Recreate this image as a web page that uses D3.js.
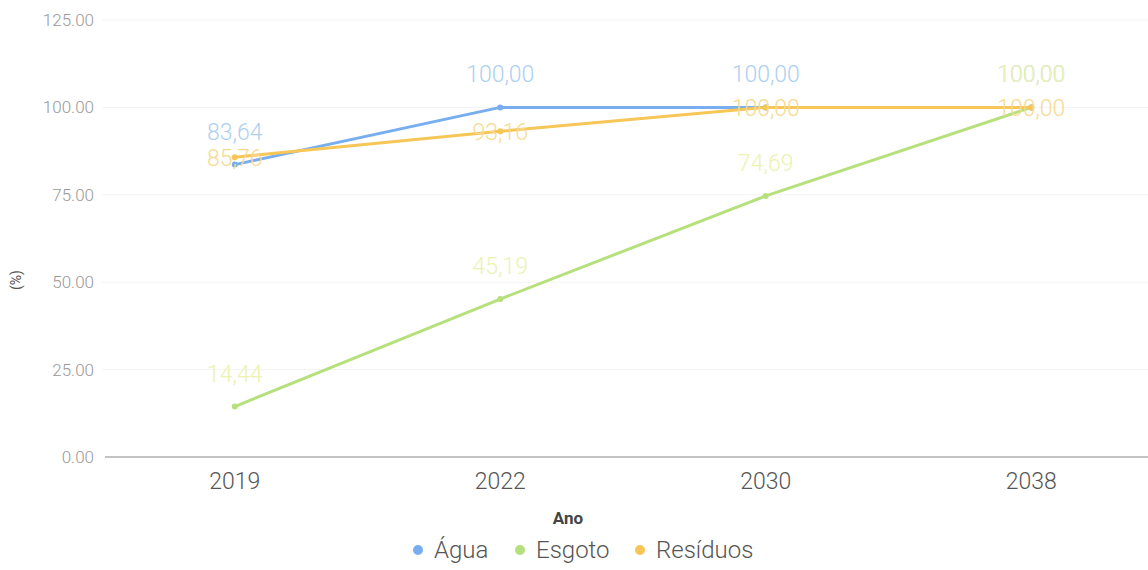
<!DOCTYPE html>
<html><head><meta charset="utf-8">
<script src="https://cdn.jsdelivr.net/npm/d3@7"></script>
<style>body{margin:0;background:#fff;}svg{display:block;font-family:Roboto,Arial,sans-serif;}</style>
</head><body><svg id="c" width="1148" height="570"></svg>
<script>
const categories = ["2019","2022","2030","2038"];
const agua = [83.64, 100.00, 100.00, 100.00];
const esgoto = [14.44, 45.19, 74.69, 100.00];
const residuos = [85.76, 93.16, 100.00, 100.00];
const yTicks = [0, 25, 50, 75, 100, 125];
const seriesNames = ["Água","Esgoto","Resíduos"];

const series = [
  {name: seriesNames[0], values: agua, line: "#78aef0", label: "#add0f2", labelDy: -33},
  {name: seriesNames[1], values: esgoto, line: "#b6e07c", label: "#ecf2b0", labelDy: -33},
  {name: seriesNames[2], values: residuos, line: "#f6c656", label: "#f6da92", labelDy: 1}
];

const svg = d3.select("#c");
const x = d3.scaleBand().domain(categories).range([102, 1164]);
const y = d3.scaleLinear().domain([0, 125]).range([457, 20]);
const fmt = v => d3.format(".2f")(v).replace(".", ",");

// grid
svg.append("g").selectAll("line").data(yTicks.filter(d => d > 0)).join("line")
  .attr("x1", 102).attr("x2", 1148)
  .attr("y1", d => y(d)).attr("y2", d => y(d))
  .attr("stroke", "#f4f4f4").attr("stroke-width", 1);

// y axis
const ya = svg.append("g").attr("transform", "translate(94,0)")
  .call(d3.axisLeft(y).tickValues(yTicks).tickFormat(d3.format(".2f")).tickSize(0).tickPadding(0));
ya.select(".domain").remove();
ya.selectAll("text").attr("fill", "#999").attr("font-size", 17).attr("font-weight", 300)
  .attr("font-family", "Roboto, Arial, sans-serif");

// x axis
const xa = svg.append("g").attr("transform", "translate(0,457)")
  .call(d3.axisBottom(x).tickSize(0).tickPadding(16));
xa.select(".domain").attr("stroke", "#888").attr("stroke-width", 1.2).attr("d", "M105,0H1148");
xa.selectAll("text").attr("fill", "#555").attr("font-size", 23).attr("font-weight", 300)
  .attr("font-family", "Roboto, Arial, sans-serif");

// axis titles
svg.append("text").attr("x", 568).attr("y", 524).attr("text-anchor", "middle")
  .attr("font-size", 17).attr("font-weight", "bold").attr("fill", "#444").text("Ano");
svg.append("text").attr("transform", "translate(21,280) rotate(-90)").attr("text-anchor", "middle")
  .attr("font-size", 14).attr("fill", "#555").text("(%)");

const cx = d => x(d) + x.bandwidth() / 2;
const line = d3.line().x(d => cx(d.c)).y(d => y(d.v));

series.forEach(s => {
  const pts = categories.map((c, i) => ({c, v: s.values[i]}));
  svg.append("path").datum(pts).attr("d", line).attr("fill", "none")
    .attr("stroke", s.line).attr("stroke-width", 3).attr("stroke-linejoin", "round");
  svg.append("g").selectAll("circle").data(pts).join("circle")
    .attr("cx", d => cx(d.c)).attr("cy", d => y(d.v)).attr("r", 3).attr("fill", s.line);
});
series.forEach(s => {
  const pts = categories.map((c, i) => ({c, v: s.values[i]}));
  svg.append("g").selectAll("text").data(pts).join("text")
    .attr("x", d => cx(d.c)).attr("y", d => y(d.v) + s.labelDy)
    .attr("dy", "0.35em").attr("text-anchor", "middle")
    .attr("font-size", 23).attr("font-weight", 300).attr("fill", s.label)
    .style("paint-order", "stroke").attr("stroke", "#fff").attr("stroke-width", 0)
    .text(d => fmt(d.v));
});

// legend
const leg = svg.append("g");
const legX = [418, 520, 640];
series.forEach((s, i) => {
  leg.append("circle").attr("cx", legX[i]).attr("cy", 550).attr("r", 5).attr("fill", s.line);
  leg.append("text").attr("x", legX[i] + 16).attr("y", 550).attr("dy", "0.35em")
    .attr("font-size", 24).attr("font-weight", 300).attr("fill", "#555").text(s.name);
});
</script></body></html>
